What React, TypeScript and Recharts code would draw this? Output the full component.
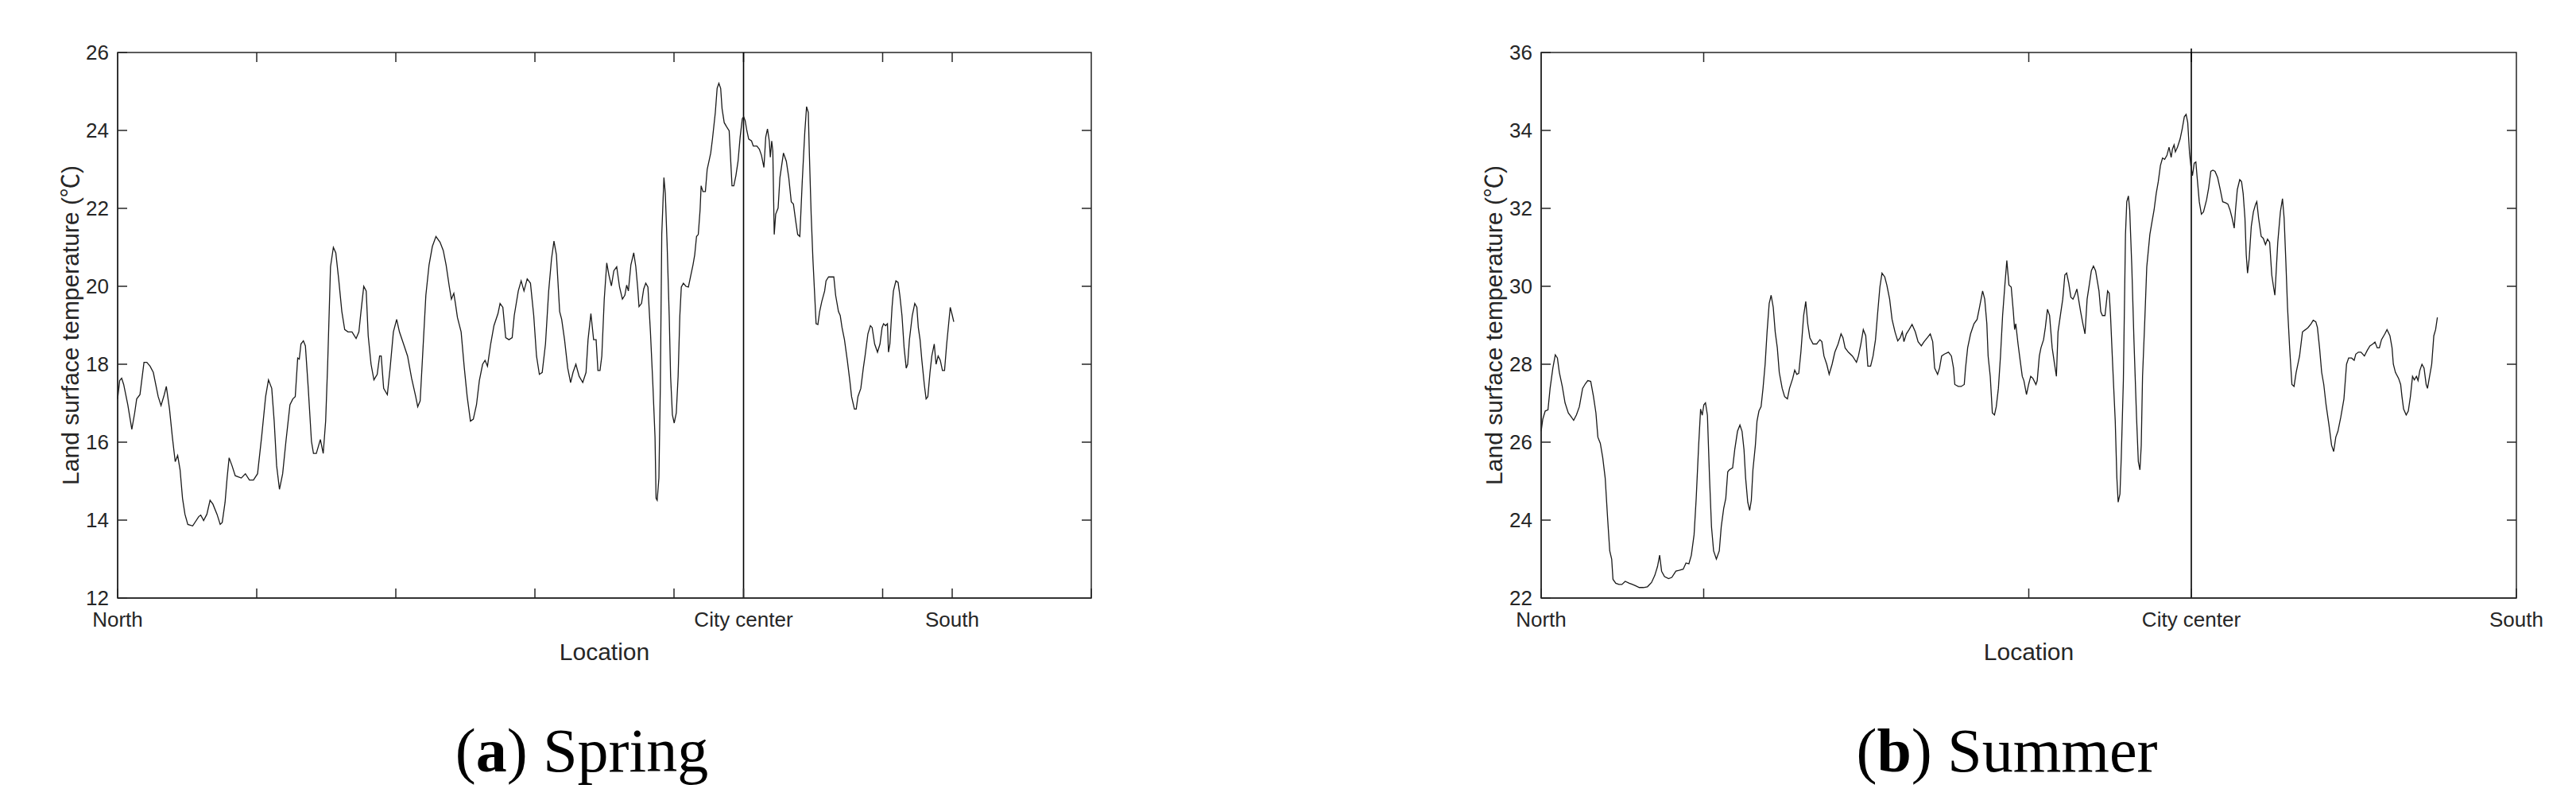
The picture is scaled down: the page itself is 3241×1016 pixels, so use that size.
import { LineChart, Line, XAxis, YAxis, ReferenceLine, ReferenceArea, Label } from 'recharts';

type Point = [number, number];

// [position along the north-south transect, land surface temperature in °C]
const springProfile: Point[] = [
  [0, 17.11], [0.029, 17.58], [0.058, 17.64], [0.087, 17.48], [0.146, 16.96], [0.204, 16.33], [0.245, 16.75],
  [0.274, 17.11], [0.321, 17.22], [0.379, 18.05], [0.42, 18.05], [0.466, 17.95], [0.513, 17.79], [0.583, 17.17],
  [0.624, 16.94], [0.671, 17.22], [0.7, 17.43], [0.746, 16.85], [0.787, 16.13], [0.828, 15.5], [0.863, 15.66],
  [0.898, 15.29], [0.933, 14.56], [0.968, 14.15], [1.009, 13.89], [1.079, 13.85], [1.166, 14.09], [1.195, 14.13],
  [1.236, 13.99], [1.283, 14.15], [1.329, 14.51], [1.37, 14.41], [1.429, 14.15], [1.475, 13.89], [1.504, 13.94],
  [1.545, 14.46], [1.574, 15.08], [1.603, 15.6], [1.644, 15.4], [1.691, 15.14], [1.778, 15.08], [1.837, 15.19],
  [1.895, 15.03], [1.953, 15.03], [2.012, 15.19], [2.07, 16.13], [2.128, 17.17], [2.169, 17.6], [2.216, 17.38],
  [2.251, 16.54], [2.286, 15.4], [2.327, 14.79], [2.373, 15.19], [2.42, 16.02], [2.478, 16.96], [2.519, 17.11],
  [2.554, 17.17], [2.589, 18.16], [2.612, 18.13], [2.636, 18.52], [2.671, 18.6], [2.7, 18.47], [2.741, 17.38],
  [2.787, 16.02], [2.816, 15.71], [2.857, 15.71], [2.915, 16.07], [2.956, 15.71], [2.991, 16.54], [3.02, 18.0],
  [3.061, 20.5], [3.102, 21.0], [3.137, 20.86], [3.178, 20.19], [3.224, 19.35], [3.265, 18.89], [3.312, 18.83],
  [3.37, 18.83], [3.429, 18.66], [3.469, 18.83], [3.499, 19.35], [3.539, 20.0], [3.574, 19.88], [3.603, 18.73],
  [3.644, 18.0], [3.685, 17.6], [3.732, 17.74], [3.767, 18.21], [3.79, 18.21], [3.825, 17.38], [3.878, 17.22],
  [3.918, 17.9], [3.965, 18.83], [4.012, 19.15], [4.052, 18.83], [4.111, 18.52], [4.169, 18.21], [4.227, 17.64],
  [4.286, 17.17], [4.315, 16.91], [4.35, 17.06], [4.385, 18.21], [4.432, 19.77], [4.478, 20.55], [4.525, 21.02],
  [4.577, 21.28], [4.636, 21.13], [4.682, 20.92], [4.723, 20.55], [4.77, 19.98], [4.799, 19.67], [4.834, 19.82],
  [4.857, 19.56], [4.886, 19.2], [4.939, 18.83], [4.985, 17.9], [5.026, 17.17], [5.073, 16.54], [5.114, 16.59],
  [5.16, 16.96], [5.201, 17.58], [5.248, 18.0], [5.283, 18.1], [5.318, 17.95], [5.364, 18.52], [5.411, 18.99],
  [5.469, 19.3], [5.499, 19.56], [5.539, 19.46], [5.58, 18.68], [5.627, 18.63], [5.673, 18.68], [5.703, 19.25],
  [5.761, 19.88], [5.802, 20.14], [5.843, 19.88], [5.889, 20.19], [5.936, 20.08], [5.983, 19.25], [6.023, 18.21],
  [6.064, 17.74], [6.105, 17.79], [6.152, 18.52], [6.198, 19.88], [6.239, 20.71], [6.274, 21.16], [6.309, 20.81],
  [6.356, 19.35], [6.385, 19.15], [6.426, 18.63], [6.472, 17.9], [6.513, 17.53], [6.548, 17.79], [6.589, 18.0],
  [6.636, 17.69], [6.688, 17.53], [6.735, 17.79], [6.764, 18.63], [6.805, 19.3], [6.844, 18.63], [6.88, 18.63],
  [6.906, 17.84], [6.936, 17.84], [6.962, 18.21], [6.997, 19.67], [7.033, 20.6], [7.064, 20.29], [7.1, 20.01],
  [7.135, 20.4], [7.176, 20.5], [7.217, 19.98], [7.258, 19.67], [7.293, 19.77], [7.319, 20.03], [7.344, 19.88],
  [7.38, 20.55], [7.421, 20.86], [7.451, 20.5], [7.477, 19.98], [7.497, 19.48], [7.533, 19.56], [7.564, 19.93],
  [7.594, 20.08], [7.625, 19.98], [7.661, 18.83], [7.696, 17.48], [7.727, 16.13], [7.742, 14.56], [7.758, 14.51],
  [7.783, 15.08], [7.803, 17.38], [7.824, 21.33], [7.855, 22.79], [7.875, 22.38], [7.9, 21.13], [7.931, 19.25],
  [7.951, 17.69], [7.977, 16.7], [8.003, 16.49], [8.033, 16.75], [8.059, 17.69], [8.084, 19.25], [8.105, 19.98],
  [8.135, 20.08], [8.171, 20.0], [8.207, 19.98], [8.237, 20.24], [8.273, 20.55], [8.298, 20.81], [8.324, 21.28],
  [8.349, 21.33], [8.375, 21.96], [8.39, 22.58], [8.416, 22.43], [8.451, 22.43], [8.477, 23.0], [8.503, 23.21],
  [8.528, 23.42], [8.553, 23.78], [8.594, 24.46], [8.62, 25.08], [8.645, 25.21], [8.671, 25.08], [8.691, 24.56],
  [8.722, 24.2], [8.758, 24.09], [8.793, 23.99], [8.819, 23.1], [8.834, 22.58], [8.86, 22.58], [8.89, 22.84],
  [8.921, 23.21], [8.951, 23.83], [8.982, 24.3], [9.002, 24.35], [9.023, 24.25], [9.048, 23.99], [9.074, 23.78],
  [9.115, 23.73], [9.14, 23.6], [9.191, 23.6], [9.227, 23.52], [9.258, 23.36], [9.293, 23.05], [9.319, 23.83],
  [9.344, 24.04], [9.37, 23.73], [9.385, 23.31], [9.405, 23.73], [9.421, 23.47], [9.441, 21.33], [9.462, 21.85],
  [9.497, 22.01], [9.523, 22.79], [9.574, 23.42], [9.615, 23.21], [9.65, 22.79], [9.686, 22.17], [9.717, 22.11],
  [9.752, 21.65], [9.778, 21.33], [9.809, 21.28], [9.844, 22.69], [9.88, 23.94], [9.906, 24.61], [9.931, 24.46],
  [9.946, 23.42], [9.972, 21.85], [9.997, 20.71], [10.023, 19.77], [10.043, 19.04], [10.069, 19.02], [10.094, 19.35],
  [10.125, 19.61], [10.166, 19.88], [10.186, 20.14], [10.222, 20.24], [10.263, 20.24], [10.298, 20.24], [10.324, 19.77],
  [10.365, 19.35], [10.39, 19.25], [10.416, 18.94], [10.451, 18.63], [10.492, 18.1], [10.528, 17.58], [10.553, 17.17],
  [10.594, 16.85], [10.62, 16.85], [10.645, 17.17], [10.686, 17.38], [10.722, 17.9], [10.747, 18.21], [10.788, 18.78],
  [10.824, 18.99], [10.849, 18.94], [10.885, 18.52], [10.926, 18.31], [10.962, 18.52], [10.992, 18.94], [11.013, 19.04],
  [11.043, 18.99], [11.069, 19.04], [11.084, 18.31], [11.104, 18.52], [11.135, 19.46], [11.155, 19.88], [11.191, 20.14],
  [11.222, 20.1], [11.247, 19.77], [11.278, 19.25], [11.309, 18.42], [11.339, 17.9], [11.36, 18.0], [11.385, 18.63],
  [11.426, 19.25], [11.462, 19.56], [11.492, 19.46], [11.513, 18.94], [11.538, 18.63], [11.564, 18.1], [11.599, 17.48],
  [11.625, 17.11], [11.65, 17.17], [11.681, 17.79], [11.707, 18.21], [11.742, 18.52], [11.768, 18.0], [11.798, 18.21],
  [11.829, 18.1], [11.86, 17.84], [11.89, 17.84], [11.921, 18.52], [11.972, 19.46], [12.002, 19.25], [12.023, 19.09],
];

const summerProfile: Point[] = [
  [0, 26.28], [0.01, 26.59], [0.025, 26.8], [0.042, 26.83], [0.055, 27.38], [0.072, 27.9], [0.087, 28.24],
  [0.1, 28.16], [0.112, 27.79], [0.13, 27.43], [0.147, 27.01], [0.167, 26.75], [0.185, 26.65], [0.2, 26.56],
  [0.217, 26.7], [0.235, 26.91], [0.255, 27.38], [0.272, 27.5], [0.287, 27.58], [0.305, 27.56], [0.322, 27.17],
  [0.337, 26.75], [0.349, 26.13], [0.364, 25.97], [0.379, 25.6], [0.394, 25.08], [0.409, 24.04], [0.422, 23.21],
  [0.434, 23.0], [0.442, 22.48], [0.459, 22.38], [0.479, 22.35], [0.497, 22.35], [0.517, 22.43], [0.542, 22.38],
  [0.562, 22.35], [0.579, 22.32], [0.604, 22.27], [0.629, 22.27], [0.654, 22.29], [0.679, 22.4], [0.699, 22.58],
  [0.716, 22.81], [0.729, 23.1], [0.741, 22.69], [0.759, 22.55], [0.784, 22.5], [0.804, 22.53], [0.829, 22.69],
  [0.849, 22.71], [0.874, 22.74], [0.891, 22.9], [0.909, 22.88], [0.924, 23.1], [0.941, 23.63], [0.954, 24.56],
  [0.969, 25.92], [0.981, 26.85], [0.991, 26.69], [1.001, 26.96], [1.011, 27.01], [1.023, 26.69], [1.036, 25.08],
  [1.048, 23.83], [1.061, 23.21], [1.078, 23.0], [1.096, 23.21], [1.108, 23.83], [1.123, 24.3], [1.136, 24.56],
  [1.148, 25.24], [1.158, 25.29], [1.178, 25.34], [1.191, 25.81], [1.208, 26.28], [1.223, 26.44], [1.236, 26.28],
  [1.248, 25.81], [1.258, 25.08], [1.271, 24.46], [1.283, 24.25], [1.293, 24.51], [1.303, 25.29], [1.318, 25.92],
  [1.328, 26.54], [1.34, 26.8], [1.353, 26.91], [1.365, 27.38], [1.378, 28.0], [1.39, 28.83], [1.403, 29.56],
  [1.415, 29.77], [1.428, 29.46], [1.44, 28.83], [1.453, 28.42], [1.465, 27.79], [1.483, 27.38], [1.498, 27.17],
  [1.515, 27.11], [1.528, 27.38], [1.548, 27.64], [1.56, 27.85], [1.573, 27.74], [1.585, 27.77], [1.598, 28.31],
  [1.615, 29.25], [1.628, 29.61], [1.64, 29.04], [1.653, 28.68], [1.673, 28.52], [1.695, 28.52], [1.715, 28.63],
  [1.727, 28.58], [1.74, 28.21], [1.757, 28.0], [1.772, 27.74], [1.79, 28.0], [1.807, 28.31], [1.827, 28.52],
  [1.845, 28.78], [1.857, 28.68], [1.87, 28.42], [1.89, 28.31], [1.915, 28.21], [1.94, 28.05], [1.952, 28.21],
  [1.967, 28.52], [1.982, 28.89], [1.997, 28.73], [2.01, 27.95], [2.027, 27.95], [2.042, 28.21], [2.057, 28.63],
  [2.069, 29.25], [2.084, 29.98], [2.097, 30.34], [2.114, 30.24], [2.127, 30.03], [2.144, 29.67], [2.159, 29.15],
  [2.177, 28.83], [2.194, 28.6], [2.209, 28.68], [2.222, 28.83], [2.232, 28.58], [2.247, 28.78], [2.264, 28.89],
  [2.282, 29.02], [2.302, 28.83], [2.319, 28.58], [2.339, 28.47], [2.356, 28.58], [2.376, 28.68], [2.394, 28.78],
  [2.409, 28.58], [2.421, 27.9], [2.439, 27.74], [2.451, 27.9], [2.464, 28.21], [2.481, 28.26], [2.506, 28.31],
  [2.524, 28.21], [2.537, 27.9], [2.545, 27.48], [2.566, 27.43], [2.584, 27.43], [2.603, 27.48], [2.611, 27.9],
  [2.624, 28.42], [2.642, 28.78], [2.663, 29.04], [2.682, 29.15], [2.697, 29.46], [2.716, 29.88], [2.729, 29.67],
  [2.742, 29.04], [2.75, 28.21], [2.763, 27.69], [2.776, 26.75], [2.789, 26.7], [2.8, 26.91], [2.813, 27.38],
  [2.826, 28.21], [2.839, 29.25], [2.852, 29.98], [2.865, 30.66], [2.878, 30.03], [2.892, 29.98], [2.905, 29.35],
  [2.913, 28.89], [2.92, 29.04], [2.934, 28.52], [2.947, 28.1], [2.96, 27.69], [2.97, 27.58], [2.986, 27.22],
  [2.999, 27.48], [3.012, 27.69], [3.025, 27.64], [3.044, 27.48], [3.052, 27.58], [3.065, 28.21], [3.075, 28.42],
  [3.091, 28.63], [3.102, 28.94], [3.115, 29.41], [3.128, 29.25], [3.144, 28.42], [3.157, 28.05], [3.17, 27.69],
  [3.18, 28.83], [3.196, 29.3], [3.209, 29.67], [3.222, 30.29], [3.233, 30.34], [3.246, 30.08], [3.259, 29.72],
  [3.272, 29.67], [3.283, 29.77], [3.296, 29.93], [3.319, 29.35], [3.333, 29.04], [3.346, 28.78], [3.359, 29.67],
  [3.372, 30.03], [3.385, 30.4], [3.398, 30.52], [3.411, 30.4], [3.424, 30.08], [3.432, 29.88], [3.443, 29.35],
  [3.453, 29.25], [3.469, 29.25], [3.485, 29.88], [3.495, 29.82], [3.503, 29.25], [3.516, 28.0], [3.532, 26.54],
  [3.542, 25.08], [3.55, 24.46], [3.561, 24.67], [3.569, 25.6], [3.582, 27.58], [3.595, 31.33], [3.603, 32.17],
  [3.613, 32.32], [3.621, 31.96], [3.634, 30.5], [3.647, 28.63], [3.663, 26.65], [3.674, 25.5], [3.684, 25.29],
  [3.692, 25.92], [3.7, 27.69], [3.713, 29.04], [3.726, 30.5], [3.745, 31.33], [3.758, 31.65], [3.771, 31.96],
  [3.784, 32.38], [3.797, 32.69], [3.81, 33.1], [3.823, 33.29], [3.836, 33.26], [3.85, 33.36], [3.863, 33.57],
  [3.876, 33.31], [3.884, 33.52], [3.894, 33.63], [3.902, 33.45], [3.915, 33.57], [3.931, 33.78], [3.944, 34.04],
  [3.957, 34.35], [3.968, 34.41], [3.978, 34.2], [3.989, 33.42], [3.997, 33.1], [4.007, 32.84], [4.018, 33.16],
  [4.028, 33.19], [4.036, 32.79], [4.049, 32.17], [4.062, 31.85], [4.075, 31.91], [4.094, 32.22], [4.107, 32.53],
  [4.12, 32.95], [4.133, 32.98], [4.146, 32.95], [4.162, 32.79], [4.178, 32.48], [4.193, 32.17], [4.212, 32.14],
  [4.225, 32.11], [4.238, 31.96], [4.251, 31.75], [4.264, 31.49], [4.272, 31.96], [4.283, 32.48], [4.298, 32.74],
  [4.309, 32.69], [4.319, 32.38], [4.33, 31.75], [4.338, 30.81], [4.346, 30.34], [4.356, 30.71], [4.369, 31.54],
  [4.382, 31.91], [4.396, 32.11], [4.403, 32.17], [4.414, 31.75], [4.43, 31.28], [4.443, 31.23], [4.456, 31.07],
  [4.469, 31.21], [4.482, 31.13], [4.495, 30.29], [4.506, 29.98], [4.514, 29.77], [4.521, 30.29], [4.532, 31.13],
  [4.548, 31.91], [4.561, 32.25], [4.571, 31.75], [4.582, 30.6], [4.592, 29.46], [4.605, 28.42], [4.619, 27.48],
  [4.632, 27.43], [4.645, 27.79], [4.666, 28.21], [4.684, 28.83], [4.703, 28.89], [4.718, 28.94], [4.737, 29.04],
  [4.75, 29.13], [4.766, 29.09], [4.776, 28.94], [4.789, 28.42], [4.802, 27.79], [4.815, 27.48], [4.829, 26.96],
  [4.847, 26.44], [4.863, 25.92], [4.876, 25.76], [4.889, 26.13], [4.902, 26.28], [4.92, 26.65], [4.939, 27.11],
  [4.955, 28.0], [4.968, 28.16], [4.986, 28.16], [5.002, 28.1], [5.012, 28.26], [5.028, 28.31], [5.044, 28.31],
  [5.065, 28.21], [5.083, 28.36], [5.099, 28.47], [5.117, 28.52], [5.13, 28.57], [5.144, 28.42], [5.157, 28.42],
  [5.17, 28.63], [5.191, 28.78], [5.204, 28.89], [5.222, 28.73], [5.235, 28.42], [5.243, 28.0], [5.256, 27.79],
  [5.275, 27.64], [5.288, 27.48], [5.296, 27.17], [5.306, 26.85], [5.322, 26.7], [5.335, 26.8], [5.348, 27.17],
  [5.361, 27.69], [5.372, 27.6], [5.385, 27.69], [5.395, 27.58], [5.406, 27.84], [5.419, 28.0], [5.432, 27.9],
  [5.445, 27.48], [5.453, 27.38], [5.466, 27.69], [5.479, 28.0], [5.492, 28.73], [5.503, 28.89], [5.514, 29.2],
];

const springPosTicks = [0, 2, 4, 6, 8, 9, 11, 12, 14];
const springTempTicks = [12, 14, 16, 18, 20, 22, 24, 26];
const springPlaces: Record<number, string> = { 0: 'North', 9: 'City center', 12: 'South' };

const summerPosTicks = [0, 1, 3, 4, 6];
const summerTempTicks = [22, 24, 26, 28, 30, 32, 34, 36];
const summerPlaces: Record<number, string> = { 0: 'North', 4: 'City center', 6: 'South' };

const INK = '#262626';
const SANS = '"Liberation Sans", Arial, "Noto Sans CJK SC", sans-serif';
const SERIF = '"Liberation Serif", "Times New Roman", serif';

// plot box size in px, used to turn the 12px inward tick length into data units
const PLOT_W = 1225;
const PLOT_H = 686;
const TICK = 12;

function YTitle({ viewBox }: any) {
  const cx = viewBox.x + viewBox.width - 60;
  const cy = viewBox.y + viewBox.height / 2;
  return (
    <text x={cx} y={cy} transform={`rotate(-90 ${cx} ${cy})`} textAnchor="middle"
      dominantBaseline="central" fontSize={30} fill={INK} fontFamily={SANS}>
      Land surface temperature (℃)
    </text>
  );
}

function XTitle({ viewBox }: any) {
  return (
    <text x={viewBox.x + viewBox.width / 2} y={viewBox.y + 78} textAnchor="middle"
      fontSize={30} fill={INK} fontFamily={SANS}>
      Location
    </text>
  );
}

interface PanelProps {
  profile: Point[];
  posTicks: number[];
  tempTicks: number[];
  places: Record<number, string>;
  center: number;
  centerTop: number;
  left: number;
  width: number;
  marginLeft: number;
  marginRight: number;
}

function Panel({ profile, posTicks, tempTicks, places, center, centerTop, left, width, marginLeft, marginRight }: PanelProps) {
  const rows = profile.map(([pos, lst]) => ({ pos, lst }));
  const posDomain = [posTicks[0], posTicks[posTicks.length - 1]];
  const tempDomain = [tempTicks[0], tempTicks[tempTicks.length - 1]];
  const dx = ((posDomain[1] - posDomain[0]) * TICK) / PLOT_W;
  const dy = ((tempDomain[1] - tempDomain[0]) * TICK) / PLOT_H;

  return (
    <div style={{ position: 'absolute', left, top: 0 }}>
      <LineChart width={width} height={870} data={rows}
        margin={{ top: 66, right: marginRight, bottom: 58, left: marginLeft }}
        style={{ fontFamily: SANS }}>
        <XAxis dataKey="pos" type="number" domain={posDomain} ticks={posTicks} interval={0}
          tickSize={-TICK} tickMargin={30} height={60} stroke={INK} strokeWidth={1.5}
          tickFormatter={(v: number) => places[v] ?? ''} tick={{ fontSize: 26, fill: INK }}>
          <Label content={XTitle} />
        </XAxis>
        <YAxis type="number" domain={tempDomain} ticks={tempTicks} interval={0}
          tickSize={-TICK} tickMargin={23} width={100} stroke={INK} strokeWidth={1.5}
          tick={{ fontSize: 26, fill: INK }}>
          <Label content={YTitle} />
        </YAxis>
        {/* box frame */}
        <ReferenceArea x1={posDomain[0]} x2={posDomain[1]} y1={tempDomain[0]} y2={tempDomain[1]}
          fill="none" fillOpacity={0} stroke={INK} strokeWidth={1.5} strokeOpacity={1} ifOverflow="visible" />
        {/* inward ticks mirrored on the top edge */}
        {posTicks.slice(1, -1).map((t) => (
          <ReferenceLine key={`top-${t}`} segment={[{ x: t, y: tempDomain[1] }, { x: t, y: tempDomain[1] - dy }]}
            stroke={INK} strokeWidth={1.5} />
        ))}
        {/* inward ticks mirrored on the right edge */}
        {tempTicks.slice(1, -1).map((t) => (
          <ReferenceLine key={`right-${t}`} segment={[{ x: posDomain[1], y: t }, { x: posDomain[1] - dx, y: t }]}
            stroke={INK} strokeWidth={1.5} />
        ))}
        <ReferenceLine segment={[{ x: center, y: tempDomain[0] }, { x: center, y: centerTop }]}
          stroke="#000" strokeWidth={1.6} ifOverflow="visible" />
        <Line dataKey="lst" type="linear" dot={false} stroke="#1a1a1a" strokeWidth={1.3}
          isAnimationActive={false} />
      </LineChart>
    </div>
  );
}

export default function App() {
  return (
    <div style={{ position: 'relative', width: 3241, height: 1016, background: '#fff', overflow: 'hidden' }}>
      <style>{'body{margin:0}'}</style>
      <Panel profile={springProfile} posTicks={springPosTicks} tempTicks={springTempTicks}
        places={springPlaces} center={9} centerTop={26} left={0} width={1470}
        marginLeft={48} marginRight={97} />
      <Panel profile={summerProfile} posTicks={summerPosTicks} tempTicks={summerTempTicks}
        places={summerPlaces} center={4} centerTop={36.1} left={1780} width={1461}
        marginLeft={59} marginRight={75} />
      {/* sub-figure captions */}
      <svg width={3241} height={1016} style={{ position: 'absolute', left: 0, top: 0, pointerEvents: 'none' }}>
        <text x={732} y={970} textAnchor="middle" fontFamily={SERIF} fontSize={78} fill="#000">
          (<tspan fontWeight="bold">a</tspan>) Spring
        </text>
        <text x={2525} y={970} textAnchor="middle" fontFamily={SERIF} fontSize={78} fill="#000">
          (<tspan fontWeight="bold">b</tspan>) Summer
        </text>
      </svg>
    </div>
  );
}
